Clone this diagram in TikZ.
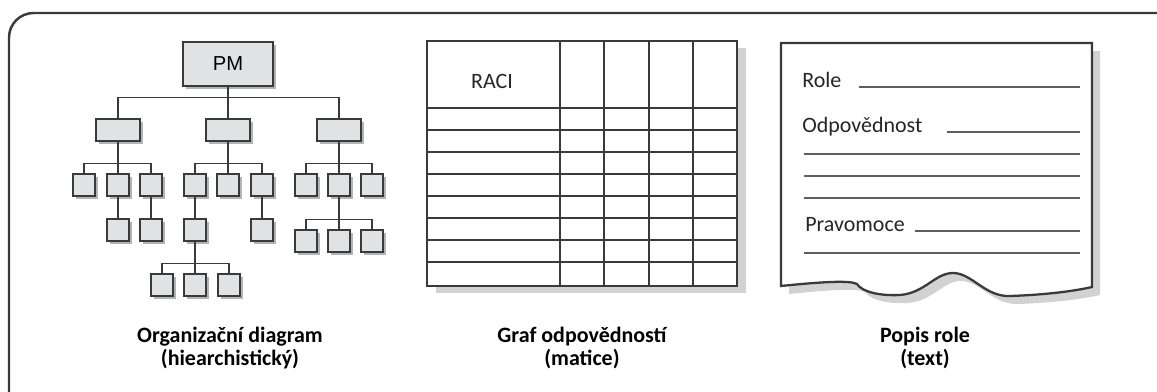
\documentclass[tikz,border=0pt]{standalone}
\usepackage{fontspec}
\setmainfont{Carlito}
\newfontfamily\pmfont{Liberation Sans}
\usepackage{xcolor}
\usepackage{tikz}
\usetikzlibrary{positioning,shadows}

\definecolor{framegray}{HTML}{3A3A3A}
\definecolor{boxfill}{HTML}{E1E2E4}
\definecolor{shadowgray}{HTML}{B4B4B4}
\definecolor{paleshadow}{HTML}{D2D2D4}
\definecolor{rulegray}{HTML}{5E5E5E}

\begin{document}
\begin{tikzpicture}[
  x=0.02cm, y=-0.02cm,
  orgbox/.style={draw=framegray, line width=0.9pt, fill=boxfill, inner sep=0pt,
    minimum width=0.44cm, minimum height=0.44cm,
    drop shadow={shadow xshift=1.6pt, shadow yshift=-1.6pt, fill=shadowgray, opacity=1}},
  orgwide/.style={orgbox, minimum width=0.88cm},
  link/.style={draw=framegray, line width=0.8pt},
  gridline/.style={draw=framegray, line width=0.7pt},
  docline/.style={draw=rulegray, line width=0.8pt},
  label/.style={font=\fontsize{12.5}{15}\selectfont, text=black!85, inner sep=0pt},
  caption/.style={font=\fontsize{12.5}{12.8}\selectfont\bfseries, align=center, inner sep=0pt}
]
\useasboundingbox (0,0) rectangle (1157,392);
\clip (0,0) rectangle (1157,392);

% outer frame
\draw[framegray, line width=1.4pt, rounded corners=14] (9,13) rectangle (1200,440);

% organization chart
\node [orgbox, minimum width=1.8cm, minimum height=0.88cm, font=\pmfont\fontsize{11.5}{13}\selectfont] (pm) at (228,64) {PM};
\node [orgwide] (g1) at (118,130) {};
\node [orgwide] (g2) at (228,130) {};
\node [orgwide] (g3) at (339,130) {};

\node [orgbox] (g1a) at (84,185) {};
\node [orgbox] (g1b) at (118,185) {};
\node [orgbox] (g1c) at (151,185) {};
\node [orgbox] (g2a) at (195,185) {};
\node [orgbox] (g2b) at (228,185) {};
\node [orgbox] (g2c) at (262,185) {};
\node [orgbox] (g3a) at (306,185) {};
\node [orgbox] (g3b) at (339,185) {};
\node [orgbox] (g3c) at (372,185) {};

\node [orgbox] (g1b1) at (118,230) {};
\node [orgbox] (g1c1) at (151,230) {};
\node [orgbox] (g2a1) at (195,230) {};
\node [orgbox] (g2c1) at (262,230) {};
\node [orgbox] (g3b1) at (306,241) {};
\node [orgbox] (g3b2) at (339,241) {};
\node [orgbox] (g3b3) at (372,241) {};

\node [orgbox] (g2x1) at (162,285) {};
\node [orgbox] (g2x2) at (195,285) {};
\node [orgbox] (g2x3) at (229,285) {};

\foreach \c in {g1,g2,g3}
  \draw [link] (pm.south) -- ++(0,11) -| (\c.north);
\foreach \p in {g1,g2,g3}
  \foreach \c in {a,b,c}
    \draw [link] (\p.south) -- ++(0,22) -| (\p\c.north);
\draw [link] (g1b) -- (g1b1);
\draw [link] (g1c) -- (g1c1);
\draw [link] (g2a) -- (g2a1);
\draw [link] (g2c) -- (g2c1);
\foreach \c in {1,2,3}
  \draw [link] (g3b.south) -- ++(0,23) -| (g3b\c.north);
\foreach \c in {1,2,3}
  \draw [link] (g2a1.south) -- ++(0,22) -| (g2x\c.north);

\node [caption] (orgcap) at (230,348) {Organizační diagram\\(hiearchistický)};

% responsibility matrix
\fill [paleshadow] (436,48) rectangle (746,293);
\fill [white] (427,41) rectangle (737,286);
\foreach \y in {108,130,152,174,196,218,240,262}
  \draw [gridline] (427,\y) -- (737,\y);
\foreach \x in {560,604,649,693}
  \draw [gridline] (\x,41) -- (\x,286);
\draw [framegray, line width=1.4pt] (427,41) rectangle (737,286);
\node [label] (raci) at (492,81) {RACI};

\node [caption] (racicap) at (582,348) {Graf odpovědností\\(matice)};

% role description sheet
\fill [paleshadow, shift={(8,8)}] (781,43) -- (1092,43) -- (1092,287)
  .. controls (1070,292) and (1040,295) .. (1010,296)
  .. controls (985,297) and (972,273) .. (953,273)
  .. controls (935,273) and (925,293) .. (900,295)
  .. controls (880,296) and (862,292) .. (857,284)
  .. controls (850,280) and (820,282) .. (781,286) -- cycle;
\draw [framegray, line width=1.3pt, fill=white] (781,43) -- (1092,43) -- (1092,287)
  .. controls (1070,292) and (1040,295) .. (1010,296)
  .. controls (985,297) and (972,273) .. (953,273)
  .. controls (935,273) and (925,293) .. (900,295)
  .. controls (880,296) and (862,292) .. (857,284)
  .. controls (850,280) and (820,282) .. (781,286) -- cycle;

\node [label, anchor=base west] (role) at (802,87) {Role};
\node [label, anchor=base west] (duty) at (802,132) {Odpovědnost};
\node [label, anchor=base west] (power) at (805,231) {Pravomoce};
\draw [docline] (859,87) -- (1080,87);
\draw [docline] (947,132) -- (1080,132);
\foreach \y in {154,176,198}
  \draw [docline] (804,\y) -- (1080,\y);
\draw [docline] (915,231) -- (1080,231);
\draw [docline] (804,253) -- (1080,253);

\node [caption] (rolecap) at (925,348) {Popis role\\(text)};
\end{tikzpicture}
\end{document}
